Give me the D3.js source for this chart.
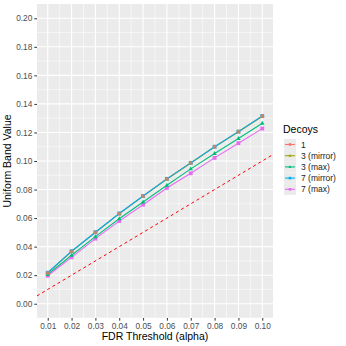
<!DOCTYPE html>
<html>
<head>
<meta charset="utf-8">
<script src="https://cdn.jsdelivr.net/npm/d3@7"></script>
<style>
  body { margin: 0; background: #fff; }
  text { font-family: "Liberation Sans", Arial, sans-serif; }
</style>
</head>
<body>
<script>
// data
const alphas = [0.01, 0.02, 0.03, 0.04, 0.05, 0.06, 0.07, 0.08, 0.09, 0.10];
const decoys = ["1", "3 (mirror)", "3 (max)", "7 (mirror)", "7 (max)"];
const colors = ["#F8766D", "#A3A500", "#00BF7D", "#00B0F6", "#E76BF3"];
const shapes = ["circle", "triangle", "triangle", "square", "square"];
const one       = [0.0216, 0.0367, 0.0500, 0.0631, 0.0754, 0.0874, 0.0986, 0.1099, 0.1205, 0.1314];
const mirror3   = [0.0216, 0.0367, 0.0500, 0.0631, 0.0754, 0.0874, 0.0986, 0.1099, 0.1205, 0.1314];
const max3      = [0.0205, 0.0340, 0.0470, 0.0595, 0.0713, 0.0830, 0.0945, 0.1053, 0.1158, 0.1264];
const mirror7   = [0.0217, 0.0368, 0.0501, 0.0632, 0.0755, 0.0875, 0.0987, 0.1100, 0.1206, 0.1315];
const max7      = [0.0196, 0.0325, 0.0456, 0.0579, 0.0694, 0.0811, 0.0914, 0.1022, 0.1125, 0.1227];
const seriesVals = [one, mirror3, max3, mirror7, max7];
const yTicks = [0, 0.02, 0.04, 0.06, 0.08, 0.10, 0.12, 0.14, 0.16, 0.18, 0.20];

const w = 346, h = 346;
const pLeft = 37, pRight = 273, pTop = 4, pBottom = 318;

const svg = d3.select("body").append("svg")
    .attr("width", w)
    .attr("height", h);

const xScale = d3.scaleLinear()
    .domain([0.0055, 0.1045])
    .range([pLeft, pRight]);

const yScale = d3.scaleLinear()
    .domain([-0.01, 0.21])
    .range([pBottom, pTop]);

// panel
svg.append("rect")
    .attr("x", pLeft).attr("y", pTop)
    .attr("width", pRight - pLeft).attr("height", pBottom - pTop)
    .attr("fill", "#EBEBEB");

const grid = svg.append("g");
// minor lines halfway between the breaks
const xMinor = d3.range(0.005, 0.1, 0.01).map(d => +d.toFixed(3)).filter(d => d >= 0.0055 && d <= 0.1045);
const yMinor = d3.range(-0.01, 0.21, 0.02).map(d => +d.toFixed(3)).filter(d => d >= -0.01 && d <= 0.21);
grid.selectAll(".xminor").data(xMinor).join("line")
    .attr("x1", d => xScale(d)).attr("x2", d => xScale(d))
    .attr("y1", pTop).attr("y2", pBottom)
    .attr("stroke", "#fff").attr("stroke-width", 0.55);
grid.selectAll(".yminor").data(yMinor).join("line")
    .attr("y1", d => yScale(d)).attr("y2", d => yScale(d))
    .attr("x1", pLeft).attr("x2", pRight)
    .attr("stroke", "#fff").attr("stroke-width", 0.55);
grid.selectAll(".xmajor").data(alphas).join("line")
    .attr("x1", d => xScale(d)).attr("x2", d => xScale(d))
    .attr("y1", pTop).attr("y2", pBottom)
    .attr("stroke", "#fff").attr("stroke-width", 1.1);
grid.selectAll(".ymajor").data(yTicks).join("line")
    .attr("y1", d => yScale(d)).attr("y2", d => yScale(d))
    .attr("x1", pLeft).attr("x2", pRight)
    .attr("stroke", "#fff").attr("stroke-width", 1.1);

// y = x reference
svg.append("line")
    .attr("x1", xScale(0.0055)).attr("y1", yScale(0.0055))
    .attr("x2", xScale(0.1045)).attr("y2", yScale(0.1045))
    .attr("stroke", "#FF0000").attr("stroke-width", 1)
    .attr("stroke-dasharray", "3,3");

const line = d3.line()
    .x((d, i) => xScale(alphas[i]))
    .y(d => yScale(d));

function drawShape(g, shape, x, y, color, s) {
    let el;
    if (shape === "circle") {
        el = g.append("circle").attr("cx", x).attr("cy", y).attr("r", s * 0.55);
    } else if (shape === "triangle") {
        const r = s * 0.65;
        el = g.append("path")
            .attr("d", `M${x},${y - r}L${x + r * 0.9},${y + r * 0.6}L${x - r * 0.9},${y + r * 0.6}Z`);
    } else {
        el = g.append("rect").attr("x", x - s / 2).attr("y", y - s / 2)
            .attr("width", s).attr("height", s);
    }
    return el.attr("fill", color);
}

const series = svg.append("g");
seriesVals.forEach((vals, k) => {
    series.append("path")
        .datum(vals)
        .attr("d", line)
        .attr("fill", "none")
        .attr("stroke", colors[k])
        .attr("stroke-width", 1.1);
});
// points: later series first so the top line shows warm-tinted markers
[4, 3, 2, 1, 0].forEach(k => {
    seriesVals[k].forEach((v, i) =>
        drawShape(series, shapes[k], xScale(alphas[i]), yScale(v), colors[k], 3.8)
            .attr("fill-opacity", k === 0 || k === 1 ? 0.6 : 1));
});

// axes
const xAxis = d3.axisBottom(xScale).tickValues(alphas).tickFormat(d3.format(".2f")).tickSize(2.7).tickPadding(2);
const yAxis = d3.axisLeft(yScale).tickValues(yTicks).tickFormat(d3.format(".2f")).tickSize(2.7).tickPadding(2);

const gx = svg.append("g")
    .attr("transform", "translate(0," + pBottom + ")")
    .call(xAxis);
const gy = svg.append("g")
    .attr("transform", "translate(" + pLeft + ",0)")
    .call(yAxis);
[gx, gy].forEach(g => {
    g.select(".domain").remove();
    g.selectAll(".tick line").attr("stroke", "#333333");
    g.selectAll(".tick text").attr("fill", "#4D4D4D").style("font-size", "8.3px");
});

svg.append("text")
    .attr("x", (pLeft + pRight) / 2).attr("y", 340)
    .attr("text-anchor", "middle")
    .style("font-size", "10.5px")
    .text("FDR Threshold (alpha)");

svg.append("text")
    .attr("transform", "translate(11," + (pTop + pBottom) / 2 + ") rotate(-90)")
    .attr("text-anchor", "middle")
    .style("font-size", "10.5px")
    .text("Uniform Band Value");

// legend
const lg = svg.append("g").attr("transform", "translate(284,0)");
lg.append("text").attr("x", -1).attr("y", 133).style("font-size", "10.5px").text("Decoys");
decoys.forEach((name, k) => {
    const cy = 144.5 + k * 11.2;
    lg.append("rect").attr("x", 0).attr("y", cy - 5.6).attr("width", 12).attr("height", 11.2).attr("fill", "#EBEBEB");
    lg.append("line").attr("x1", 1).attr("x2", 11).attr("y1", cy).attr("y2", cy)
        .attr("stroke", colors[k]).attr("stroke-width", 1.1);
    drawShape(lg, shapes[k], 6, cy, colors[k], 2.6);
    lg.append("text").attr("x", 17).attr("y", cy + 3).style("font-size", "8.5px").attr("fill", "#1a1a1a").text(name);
});
</script>
</body>
</html>
